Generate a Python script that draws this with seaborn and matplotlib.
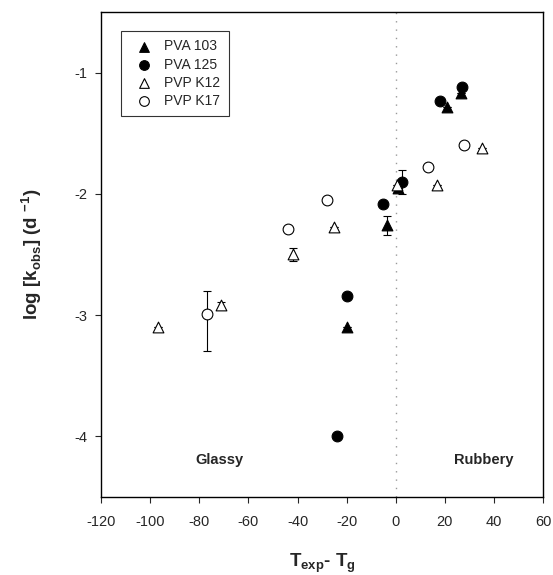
import matplotlib
matplotlib.use("Agg")
import matplotlib.pyplot as plt
import numpy as np
import pandas as pd
import seaborn as sns

# values
pva103_x = [26.5, 21, 1, -3.5, -20]
pva103_y = [-1.17, -1.28, -1.95, -2.26, -3.1]
pva103_err = [0, 0, 0, 0.08, 0]

pva125_x = [27, 18, 2.5, -5, -20, -24]
pva125_y = [-1.12, -1.23, -1.9, -2.08, -2.84, -4.0]
pva125_err = [0, 0, 0.1, 0, 0, 0]

pvpk12_x = [35, 17, 0.5, -25, -42, -71, -97]
pvpk12_y = [-1.62, -1.93, -1.93, -2.27, -2.5, -2.92, -3.1]
pvpk12_err = [0, 0, 0, 0, 0.055, 0.03, 0]

pvpk17_x = [28, 13, -28, -44, -77]
pvpk17_y = [-1.6, -1.78, -2.05, -2.29, -2.99]
pvpk17_err_lo = [0, 0, 0, 0, 0.31]
pvpk17_err_hi = [0, 0, 0, 0, 0.19]

series = ["PVA 103", "PVA 125", "PVP K12", "PVP K17"]

sns.set_style("ticks")
plt.rcParams["font.family"] = ["Liberation Sans", "DejaVu Sans"]
plt.rcParams["mathtext.fontset"] = "custom"
plt.rcParams["mathtext.rm"] = "Liberation Sans"
plt.rcParams["mathtext.bf"] = "Liberation Sans:bold"
plt.rcParams["axes.unicode_minus"] = False

df = pd.concat([
    pd.DataFrame({"x": pva103_x, "y": pva103_y, "s": series[0]}),
    pd.DataFrame({"x": pva125_x, "y": pva125_y, "s": series[1]}),
    pd.DataFrame({"x": pvpk12_x, "y": pvpk12_y, "s": series[2]}),
    pd.DataFrame({"x": pvpk17_x, "y": pvpk17_y, "s": series[3]}),
])

fig = plt.figure(figsize=(5.53, 5.75), dpi=100)
ax = fig.add_axes([0.183, 0.136, 0.799, 0.843])

ax.axvline(0, color="#999999", lw=1.0, ls=(0, (1, 5)), zorder=0)

# error bars
ekw = dict(fmt="none", ecolor="black", elinewidth=0.8, capsize=3, capthick=0.8, zorder=1)
ax.errorbar(pva103_x, pva103_y, yerr=pva103_err, **ekw)
ax.errorbar(pva125_x, pva125_y, yerr=pva125_err, **ekw)
ax.errorbar(pvpk12_x, pvpk12_y, yerr=pvpk12_err, **ekw)
ax.errorbar(pvpk17_x, pvpk17_y, yerr=[pvpk17_err_lo, pvpk17_err_hi], **ekw)

markers = {"PVA 103": "^", "PVA 125": "o", "PVP K12": "^", "PVP K17": "o"}
faces = {"PVA 103": "black", "PVA 125": "black", "PVP K12": "white", "PVP K17": "white"}
for name in series:
    sub = df[df["s"] == name]
    sns.scatterplot(data=sub, x="x", y="y", marker=markers[name], s=60,
                    color=faces[name], edgecolor="black", linewidth=0.8,
                    label=name, ax=ax, zorder=3)

ax.set_xlim(-120, 60)
ax.set_ylim(-4.5, -0.5)
ax.set_xticks(np.arange(-120, 61, 20))
ax.set_yticks([-4, -3, -2, -1])
ax.tick_params(labelsize=10.5, length=4, width=0.8, direction="out")
ax.tick_params(axis="x", pad=9)
ax.tick_params(axis="y", pad=6)
for sp in ax.spines.values():
    sp.set_linewidth(1.0)
    sp.set_color("black")

ax.text(-72, -4.2, "Glassy", fontsize=10.5, fontweight="bold", ha="center", va="center")
ax.text(36, -4.2, "Rubbery", fontsize=10.5, fontweight="bold", ha="center", va="center")

ax.set_xlabel(r"T$_\mathbf{exp}$- T$_\mathbf{g}$", fontsize=13.5, fontweight="bold", labelpad=16)
ax.set_ylabel(r"log [k$_\mathbf{obs}$] (d $^\mathbf{-1}$)", fontsize=13.5, fontweight="bold", labelpad=22)

leg = ax.legend(loc="upper left", bbox_to_anchor=(0.03, 0.975), frameon=True, fancybox=False,
                edgecolor="black", fontsize=10, handletextpad=0.5, borderpad=0.6,
                labelspacing=0.3, markerscale=0.9)
leg.get_frame().set_linewidth(0.8)

fig.savefig("out.png", dpi=100)
